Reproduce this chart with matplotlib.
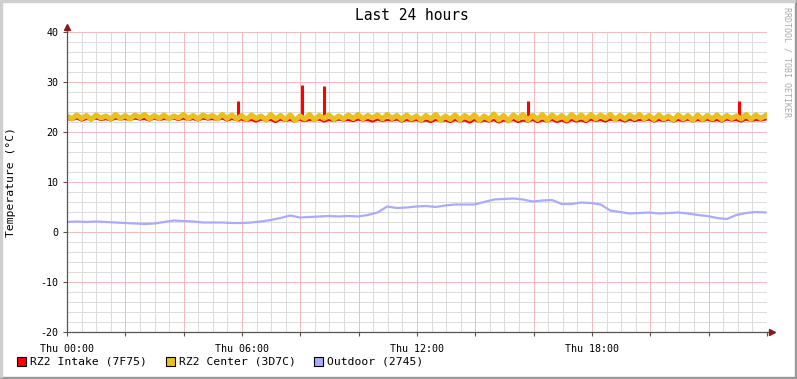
import numpy as np
import matplotlib
matplotlib.use("Agg")
import matplotlib.pyplot as plt
from matplotlib.patches import Rectangle
from matplotlib.lines import Line2D

plt.rcParams['font.family'] = ['DejaVu Sans Mono']
plt.rcParams['axes.unicode_minus'] = False

# data: 10 minute samples over the last 24 hours (hours since Thu 00:00)
intake = [
    22.6, 22.4, 22.7, 22.3, 22.6, 22.5, 22.7, 22.4, 22.6, 22.3, 22.7, 22.5,
    22.6, 22.4, 22.7, 22.5, 22.6, 22.3, 22.7, 22.4, 22.6, 22.5, 22.7, 22.4,
    22.7, 22.4, 22.6, 22.3, 22.7, 22.5, 22.6, 22.4, 22.7, 22.3, 22.6, 22.4,
    22.5, 22.2, 22.4, 22.1, 22.5, 22.3, 22.4, 22.0, 22.5, 22.2, 22.4, 22.1,
    22.5, 22.2, 22.4, 22.3, 22.5, 22.1, 22.4, 22.2, 22.5, 22.3, 22.4, 22.2,
    22.5, 22.3, 22.4, 22.1, 22.5, 22.2, 22.4, 22.3, 22.5, 22.1, 22.4, 22.2,
    22.4, 22.1, 22.3, 22.0, 22.4, 22.2, 22.3, 22.0, 22.4, 22.1, 22.3, 21.9,
    22.4, 22.0, 22.3, 22.1, 22.4, 21.9, 22.3, 22.1, 22.4, 22.0, 22.3, 22.1,
    22.4, 22.0, 22.3, 22.1, 22.4, 22.0, 22.3, 21.9, 22.4, 22.1, 22.3, 22.0,
    22.5, 22.2, 22.4, 22.1, 22.5, 22.3, 22.4, 22.1, 22.5, 22.2, 22.4, 22.3,
    22.5, 22.1, 22.4, 22.2, 22.5, 22.1, 22.4, 22.2, 22.5, 22.1, 22.4, 22.2,
    22.5, 22.2, 22.4, 22.1, 22.5, 22.3, 22.4, 22.1, 22.5, 22.2, 22.4, 22.3,
    22.5,
]
center = [
    23.2, 22.6, 23.4, 22.7, 23.3, 22.5, 23.4, 22.8, 23.2, 22.6, 23.5, 22.7,
    23.3, 22.6, 23.4, 22.9, 23.5, 22.6, 23.3, 22.7, 23.4, 22.6, 23.2, 22.8,
    23.5, 22.7, 23.3, 22.6, 23.4, 22.9, 23.3, 22.6, 23.5, 22.7, 23.4, 22.6,
    23.3, 22.5, 23.4, 22.7, 23.2, 22.4, 23.5, 22.6, 23.3, 22.5, 23.4, 22.3,
    23.2, 22.6, 23.5, 22.4, 23.3, 22.7, 23.4, 22.5, 23.2, 22.6, 23.4, 22.7,
    23.5, 22.6, 23.3, 22.8, 23.4, 22.6, 23.5, 22.7, 23.3, 22.5, 23.4, 22.6,
    23.2, 22.4, 23.3, 22.6, 23.5, 22.3, 23.2, 22.5, 23.4, 22.4, 23.3, 22.6,
    23.4, 22.3, 23.2, 22.5, 23.6, 22.4, 23.3, 22.2, 23.4, 22.6, 23.5, 22.4,
    23.3, 22.5, 23.5, 22.3, 23.4, 22.6, 23.3, 22.4, 23.5, 22.6, 23.4, 22.5,
    23.5, 22.6, 23.4, 22.7, 23.5, 22.5, 23.3, 22.6, 23.4, 22.7, 23.5, 22.6,
    23.3, 22.5, 23.4, 22.6, 23.2, 22.4, 23.4, 22.6, 23.3, 22.3, 23.4, 22.5,
    23.3, 22.6, 23.4, 22.5, 23.3, 22.7, 23.2, 22.6, 23.5, 22.5, 23.4, 22.7,
    23.3,
]
sample_hours = np.linspace(0, 23.95, len(center))

# short spikes of the intake sensor
spike_hours = [5.86, 8.06, 8.81, 15.8, 23.04]
spike_values = [26.3, 29.5, 29.3, 26.3, 26.3]

# outdoor: 20 minute samples
outdoor = [
    2.0, 2.1, 2.0, 2.1, 2.0, 1.9, 1.8, 1.7, 1.6, 1.7, 2.0, 2.3,
    2.2, 2.1, 1.9, 1.9, 1.9, 1.8, 1.8, 1.9, 2.1, 2.4, 2.8, 3.3,
    2.9, 3.0, 3.1, 3.2, 3.1, 3.2, 3.1, 3.4, 3.9, 5.1, 4.8, 4.9,
    5.1, 5.2, 5.0, 5.3, 5.5, 5.5, 5.5, 6.0, 6.5, 6.6, 6.7, 6.5,
    6.1, 6.3, 6.4, 5.6, 5.6, 5.9, 5.8, 5.5, 4.3, 4.0, 3.7, 3.8,
    3.9, 3.7, 3.8, 3.9, 3.7, 3.4, 3.2, 2.8, 2.6, 3.4, 3.8, 4.0,
    3.9,
]
outdoor_hours = np.linspace(0, 23.95, len(outdoor))

names = ['RZ2 Intake (7F75)', 'RZ2 Center (3D7C)', 'Outdoor (2745)']
colors = ['#ff0000', '#e8c020', '#aaaaff']
tick_labels = {0: 'Thu 00:00', 6: 'Thu 06:00', 12: 'Thu 12:00', 18: 'Thu 18:00'}

W, H = 797, 379
fig = plt.figure(figsize=(W / 100, H / 100), dpi=100)
fig.patch.set_facecolor('white')
ax = fig.add_axes([67 / W, (H - 332) / H, 700 / W, 300 / H])

ax.set_xlim(0, 24)
ax.set_ylim(-20, 40)

# grid
for h in np.arange(0, 24.01, 0.5):
    if h % 2 != 0:
        ax.axvline(h, color='#dcdcdc', lw=0.72, zorder=1)
for v in range(-20, 41, 2):
    if v % 10 != 0:
        ax.axhline(v, color='#dcdcdc', lw=0.72, zorder=1)
for h in range(2, 25, 2):
    ax.axvline(h, color='#f3bcbc', lw=0.72, zorder=1.5)
for v in range(-10, 41, 10):
    ax.axhline(v, color='#f3bcbc', lw=0.72, zorder=1.5)

# series
ax.plot(sample_hours, intake, color=colors[0], lw=1.6, zorder=3)
ax.vlines(spike_hours, 22.3, spike_values, color=colors[0], lw=2.2, zorder=3)
ax.plot(sample_hours, center, color=colors[1], lw=3.7, zorder=4)
ax.plot(outdoor_hours, outdoor, color=colors[2], lw=1.6, zorder=4)

# axes styling
for s in ['top', 'right']:
    ax.spines[s].set_visible(False)
for s in ['left', 'bottom']:
    ax.spines[s].set_color('#555555')
    ax.spines[s].set_linewidth(0.9)
    ax.spines[s].set_zorder(5)

ax.set_xticks(range(0, 25, 2))
ax.set_xticklabels([tick_labels.get(h, '') for h in range(0, 25, 2)])
ax.set_yticks(range(-20, 41, 10))
ax.tick_params(axis='both', length=3, width=0.8, color='#555555',
               labelsize=7.2, pad=3)
ax.tick_params(axis='x', pad=6)

# axis arrows
ax.add_line(Line2D([1, 1 + 5 / 700], [0, 0], transform=ax.transAxes,
                   color='#555555', lw=0.9, clip_on=False))
ax.add_line(Line2D([0, 0], [1, 1 + 5 / 300], transform=ax.transAxes,
                   color='#555555', lw=0.9, clip_on=False))
ax.plot([1 + 5 / 700], [0], marker='>', markersize=4, color='#8b1a1a',
        transform=ax.transAxes, clip_on=False)
ax.plot([0], [1 + 5 / 300], marker='^', markersize=4, color='#8b1a1a',
        transform=ax.transAxes, clip_on=False)

ax.set_ylabel('Temperature (°C)', fontsize=8.2, labelpad=8)
ax.yaxis.set_label_coords(-51 / 700, 0.5)

fig.text(412 / W, 1 - 16 / H, 'Last 24 hours', ha='center', va='center',
         fontsize=10.5)
fig.text(787 / W, 1 - 62 / H, 'RRDTOOL / TOBI OETIKER', rotation=270,
         ha='center', va='center', fontsize=6, color='#aaaaaa')

# legend
legend_x = [17, 166, 314]
for x, name, c in zip(legend_x, names, colors):
    fig.patches.append(Rectangle((x / W, 1 - 366 / H), 9 / W, 9 / H,
                                 transform=fig.transFigure, facecolor=c,
                                 edgecolor='black', lw=0.8))
    fig.text((x + 13) / W, 1 - 361 / H, name, ha='left', va='center',
             fontsize=8.2)

# frame
fig.patches.append(Rectangle((0, 0), 1, 2 / H, transform=fig.transFigure,
                             color='#999999'))
fig.patches.append(Rectangle((1 - 2 / W, 0), 2 / W, 1, transform=fig.transFigure,
                             color='#999999'))
fig.patches.append(Rectangle((0, 1 - 2 / H), 1 - 2 / W, 2 / H,
                             transform=fig.transFigure, color='#cfcfcf'))
fig.patches.append(Rectangle((0, 2 / H), 2 / W, 1 - 2 / H,
                             transform=fig.transFigure, color='#cfcfcf'))

fig.savefig('out.png', dpi=100)
